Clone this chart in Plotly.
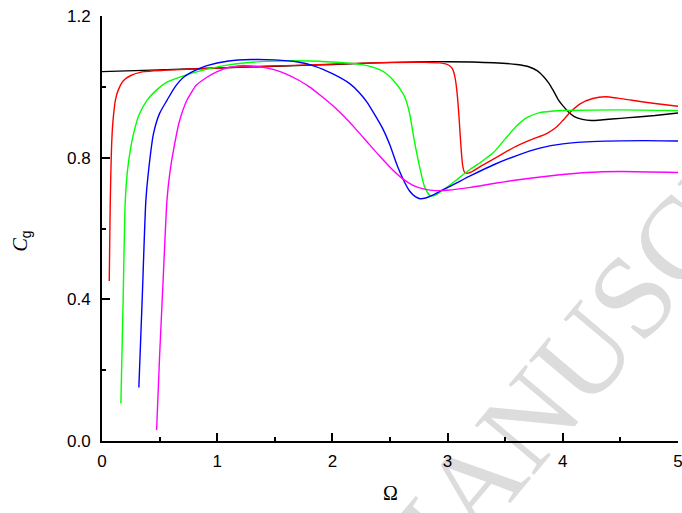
import plotly.graph_objects as go

# ---- data ----
black_x = [0, 0.5, 1.0, 1.5, 2.0, 2.5, 3.0, 3.4, 3.6, 3.71, 3.78, 3.83, 3.88, 3.92, 3.96, 4.0, 4.05, 4.1, 4.17, 4.25, 4.35, 4.5, 4.65, 4.8, 5.0]
black_y = [1.043, 1.048, 1.053, 1.058, 1.063, 1.069, 1.071, 1.068, 1.063, 1.056, 1.045, 1.03, 1.01, 0.988, 0.964, 0.947, 0.929, 0.916, 0.908, 0.905, 0.907, 0.911, 0.915, 0.919, 0.926]

red_x = [0.063, 0.067, 0.072, 0.08, 0.09, 0.1, 0.116, 0.14, 0.187, 0.25, 0.332, 0.45, 0.62, 0.85, 1.2, 1.6, 2.0, 2.415, 2.8, 2.95, 2.99, 3.02, 3.04, 3.055, 3.068, 3.08, 3.09, 3.1, 3.11, 3.12, 3.13, 3.145, 3.17, 3.22, 3.3, 3.42, 3.57, 3.72, 3.86, 3.94, 4.0, 4.07, 4.15, 4.26, 4.37, 4.48, 4.6, 4.8, 5.0]
red_y = [0.452, 0.56, 0.68, 0.80, 0.88, 0.92, 0.962, 0.99, 1.018, 1.032, 1.041, 1.045, 1.048, 1.051, 1.056, 1.060, 1.064, 1.068, 1.069, 1.067, 1.064, 1.059, 1.052, 1.04, 1.02, 0.99, 0.955, 0.91, 0.86, 0.815, 0.78, 0.76, 0.756, 0.762, 0.778, 0.80, 0.828, 0.85, 0.868, 0.885, 0.905, 0.93, 0.952, 0.967, 0.972, 0.968, 0.962, 0.953, 0.945]

green_x = [0.164, 0.183, 0.202, 0.22, 0.245, 0.274, 0.32, 0.39, 0.47, 0.564, 0.7, 0.853, 1.1, 1.43, 1.8, 2.0, 2.2, 2.3, 2.4, 2.47, 2.53, 2.587, 2.63, 2.67, 2.71, 2.76, 2.8, 2.85, 2.9, 3.0, 3.1, 3.2, 3.3, 3.4, 3.5, 3.6, 3.7, 3.8, 3.9, 4.0, 4.5, 5.0]
green_y = [0.106, 0.39, 0.68, 0.76, 0.82, 0.868, 0.92, 0.962, 0.99, 1.013, 1.03, 1.045, 1.062, 1.072, 1.073, 1.07, 1.065, 1.06, 1.05, 1.037, 1.018, 0.994, 0.97, 0.925, 0.85, 0.77, 0.718, 0.692, 0.695, 0.718, 0.743, 0.768, 0.79, 0.815, 0.853, 0.89, 0.915, 0.927, 0.931, 0.933, 0.935, 0.933]

blue_x = [0.32, 0.35, 0.381, 0.41, 0.447, 0.5, 0.564, 0.63, 0.708, 0.8, 0.911, 1.1, 1.3, 1.5, 1.7, 1.85, 2.0, 2.15, 2.23, 2.3, 2.37, 2.44, 2.5, 2.56, 2.62, 2.67, 2.72, 2.76, 2.81, 2.87, 2.95, 3.05, 3.2, 3.4, 3.6, 3.8, 4.0, 4.3, 4.7, 5.0]
blue_y = [0.151, 0.41, 0.68, 0.78, 0.868, 0.925, 0.962, 0.998, 1.027, 1.045, 1.06, 1.073, 1.077, 1.076, 1.07, 1.058, 1.037, 1.009, 0.985, 0.957, 0.92, 0.88, 0.835, 0.78, 0.735, 0.706, 0.69, 0.684, 0.686, 0.694, 0.708, 0.724, 0.749, 0.78, 0.806, 0.827, 0.839, 0.846, 0.848, 0.847]

magenta_x = [0.474, 0.5, 0.53, 0.564, 0.59, 0.62, 0.67, 0.737, 0.82, 0.911, 1.0, 1.1, 1.2, 1.3, 1.4, 1.5, 1.6, 1.7, 1.8, 1.9, 2.0, 2.1, 2.2, 2.3, 2.4, 2.5, 2.6, 2.7, 2.8, 2.9, 3.0, 3.2, 3.4, 3.6, 3.9, 4.2, 4.5, 5.0]
magenta_y = [0.031, 0.24, 0.45, 0.68, 0.76, 0.82, 0.90, 0.962, 1.005, 1.027, 1.043, 1.055, 1.06, 1.059, 1.055, 1.048, 1.036, 1.02, 1.0, 0.975, 0.948, 0.917, 0.882, 0.845, 0.808, 0.773, 0.743, 0.722, 0.711, 0.707, 0.708, 0.716, 0.727, 0.737, 0.749, 0.758, 0.761, 0.758]

x_ticks = [0, 1, 2, 3, 4, 5]
y_ticks = [0.0, 0.4, 0.8, 1.2]
y_tick_labels = ["0.0", "0.4", "0.8", "1.2"]

series = [
    (black_x, black_y, "#000000"),
    (red_x, red_y, "#ff0000"),
    (green_x, green_y, "#00ff00"),
    (blue_x, blue_y, "#0000ff"),
    (magenta_x, magenta_y, "#ff00ff"),
]

fig = go.Figure()
for xs, ys, col in series:
    fig.add_trace(go.Scatter(x=xs, y=ys, mode="lines",
                             line=dict(color=col, width=1.4, shape="spline", smoothing=0.6),
                             showlegend=False, hoverinfo="skip"))

tickfont = dict(family="Liberation Sans, Arial, sans-serif", size=17, color="black")

fig.update_layout(
    width=682, height=513,
    margin=dict(l=102, r=4, t=16, b=72),
    paper_bgcolor="white", plot_bgcolor="rgba(0,0,0,0)",
    showlegend=False,
    xaxis=dict(range=[0, 5], tickvals=x_ticks, ticktext=[str(v) for v in x_ticks],
               ticks="inside", ticklen=8, tickwidth=1.5, tickcolor="black",
               minor=dict(tickvals=[0.5, 1.5, 2.5, 3.5, 4.5], ticks="inside", ticklen=4, tickwidth=1.5, tickcolor="black"),
               showline=True, linecolor="black", linewidth=1.8, mirror=False, automargin=False,
               ticklabeloverflow="allow",
               showgrid=False, zeroline=False, tickfont=tickfont, ticklabelstandoff=4),
    yaxis=dict(range=[0, 1.2], tickvals=y_ticks, ticktext=y_tick_labels,
               ticks="inside", ticklen=8, tickwidth=1.5, tickcolor="black",
               minor=dict(tickvals=[0.2, 0.6, 1.0], ticks="inside", ticklen=4, tickwidth=1.5, tickcolor="black"),
               showline=True, linecolor="black", linewidth=1.8, mirror=False, automargin=False,
               ticklabeloverflow="allow",
               showgrid=False, zeroline=False, tickfont=tickfont, ticklabelstandoff=6),
    shapes=[
        dict(type="rect", xref="paper", yref="paper", x0=0.527, x1=0.537, y0=-0.245, y1=-0.235,
             line=dict(width=0), fillcolor="rgba(0,0,0,0)", layer="below",
             label=dict(text="ACCEPTED MANUSCRIPT", textangle=-50, textposition="middle center",
                        font=dict(family="Liberation Serif, Times New Roman, serif", size=118, color="#dcdcdc"))),
    ],
    annotations=[
        dict(text="<i>C</i><sub><span style='font-family:Liberation Sans'>g</span></sub>",
             xref="paper", yref="paper", x=-0.14, y=0.47, textangle=-90,
             showarrow=False, xanchor="center", yanchor="middle",
             font=dict(family="Liberation Serif, Times New Roman, serif", size=20, color="black")),
        dict(text="Ω", xref="paper", yref="paper", x=0.5, y=-0.122,
             showarrow=False, xanchor="center", yanchor="middle",
             font=dict(family="Liberation Serif, Times New Roman, serif", size=20, color="black")),
    ],
)

fig.write_html("out.html", config={"displayModeBar": False},
               post_script="document.body.style.margin='0px';document.body.style.overflow='hidden';")
